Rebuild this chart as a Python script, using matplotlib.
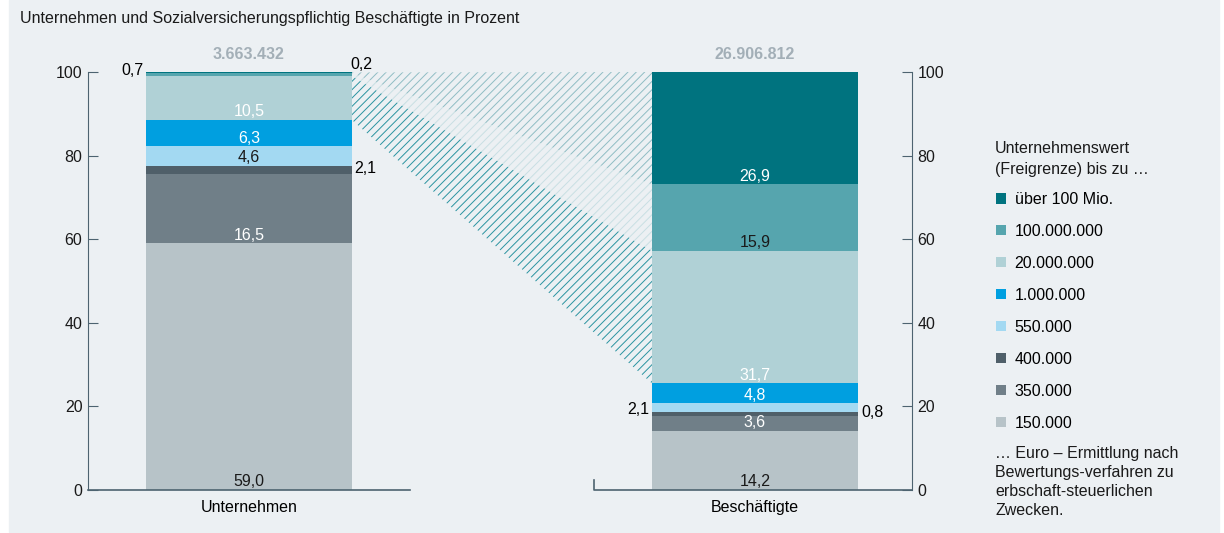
import matplotlib
matplotlib.use("Agg")
import matplotlib.pyplot as plt
from matplotlib.patches import Patch, Rectangle, Polygon
import numpy as np

FS = 11.5
plt.rcParams["font.family"] = ["Liberation Sans", "DejaVu Sans"]
plt.rcParams["font.size"] = FS
plt.rcParams["hatch.linewidth"] = 0.7

# data
categories = ["150.000", "350.000", "400.000", "550.000", "1.000.000",
              "20.000.000", "100.000.000", "über 100 Mio."]
unternehmen = [59.0, 16.5, 2.1, 4.6, 6.3, 10.5, 0.7, 0.2]
beschaeftigte = [14.2, 3.6, 0.8, 2.1, 4.8, 31.7, 15.9, 26.9]
bar_names = ["Unternehmen", "Beschäftigte"]
totals = ["3.663.432", "26.906.812"]

colors = ["#b7c3c8", "#707f88", "#4f5f69", "#a3d9f2", "#009fe0",
          "#b0d1d6", "#56a5ae", "#00737f"]
# label colour per segment, None = label placed beside the bar
lab_u = ["#1a1a1a", "white", None, "#1a1a1a", "white", "white", None, None]
lab_b = ["#1a1a1a", "white", None, None, "white", "white", "#1a1a1a", "white"]

W, H = 1224, 533
fig = plt.figure(figsize=(W / 100, H / 100), dpi=100)
fig.patches.append(Rectangle((9 / W, 1 / H), 1210 / W, 1 - 1 / H,
                             transform=fig.transFigure, color="#ecf0f3", zorder=-10))

ax = fig.add_axes([88 / W, 43 / H, 824 / W, 418 / H])
ax.set_zorder(2)
ax.set_facecolor("none")
ax.set_xlim(88, 912)
ax.set_ylim(0, 100)

spine_c = "#4d6370"
for s in ["top", "bottom"]:
    ax.spines[s].set_visible(False)
for s in ["left", "right"]:
    ax.spines[s].set_color(spine_c)
ax.set_xticks([])
ax.set_yticks([0, 20, 40, 60, 80, 100])
ax.tick_params(axis="y", direction="in", length=7, color=spine_c, pad=4,
               left=True, right=True, labelleft=True, labelright=True,
               labelsize=FS, labelcolor="#1a1a1a")
# bottom baseline segments
ax.plot([88, 410], [0, 0], color=spine_c, lw=1.2, clip_on=False)
ax.plot([594, 594, 912], [2.4, 0, 0], color=spine_c, lw=1.2, clip_on=False)

x_pos = [249, 755]
bw = 206
for xi, vals, labs in [(x_pos[0], unternehmen, lab_u), (x_pos[1], beschaeftigte, lab_b)]:
    bottoms = np.concatenate([[0], np.cumsum(vals)[:-1]])
    ax.bar(xi, vals, bottom=bottoms, width=bw, color=colors, linewidth=0)
    for v, b, c in zip(vals, bottoms, labs):
        if c is not None:
            ax.text(xi, b + 0.2, f"{v:.1f}".replace(".", ","), ha="center",
                    va="bottom", color=c)

# labels beside the bars
cu = np.cumsum(unternehmen)
cb = np.cumsum(beschaeftigte)
fmt = lambda v: f"{v:.1f}".replace(".", ",")
ax.text(x_pos[0] - bw / 2 - 2, 100.3, fmt(unternehmen[6]), ha="right", va="center")
ax.text(x_pos[0] + bw / 2 - 2, 101.9, fmt(unternehmen[7]), ha="left", va="center")
ax.text(x_pos[0] + bw / 2 + 2, 77.0, fmt(unternehmen[2]), ha="left", va="center")
ax.text(x_pos[1] - bw / 2 - 3, 19.2, fmt(beschaeftigte[3]), ha="right", va="center")
ax.text(x_pos[1] + bw / 2 + 3, 18.6, fmt(beschaeftigte[2]), ha="left", va="center")

for xi, t in zip(x_pos, totals):
    ax.text(xi, 104.2, t, ha="center", va="center", color="#a3afb7",
            fontweight="bold", clip_on=False)
for xi, n in zip(x_pos, bar_names):
    ax.text(xi, -4.3, n, ha="center", va="center", clip_on=False)

# hatched connection between the top three classes
xl, xr = x_pos[0] + bw / 2, x_pos[1] - bw / 2
hatch_cols = ["#2a93a0", "#c8dfe3", "#8fbdc4"]
for k, hc in zip(range(5, 8), hatch_cols):
    lo_l, hi_l = cu[k - 1], cu[k]
    lo_r, hi_r = cb[k - 1], cb[k]
    ax.add_patch(Polygon([(xl, lo_l), (xl, hi_l), (xr, hi_r), (xr, lo_r)],
                         closed=True, facecolor="none", edgecolor=hc,
                         hatch="////", linewidth=0))

fig.text(20 / W, 1 - 18 / H, "Unternehmen und Sozialversicherungspflichtig Beschäftigte in Prozent",
         va="center", ha="left", color="#1a1a1a")

# legend
fig.text(995 / W, 1 - 159 / H, "Unternehmenswert\n(Freigrenze) bis zu …",
         va="center", ha="left", linespacing=1.5, color="#1a1a1a")
handles = [Patch(facecolor=c, edgecolor="none") for c in colors[::-1]]
fig.legend(handles, categories[::-1], loc="upper left",
           bbox_to_anchor=(996 / W, 1 - 192 / H), frameon=False,
           handlelength=0.62, handleheight=0.62, handletextpad=0.55,
           labelspacing=1.06, borderaxespad=0, borderpad=0, fontsize=FS)
fig.text(995 / W, 1 - 482 / H,
         "… Euro – Ermittlung nach\nBewertungs-verfahren zu\nerbschaft-steuerlichen\nZwecken.",
         va="center", ha="left", linespacing=1.35, color="#1a1a1a")

fig.savefig("out.png", dpi=100)
